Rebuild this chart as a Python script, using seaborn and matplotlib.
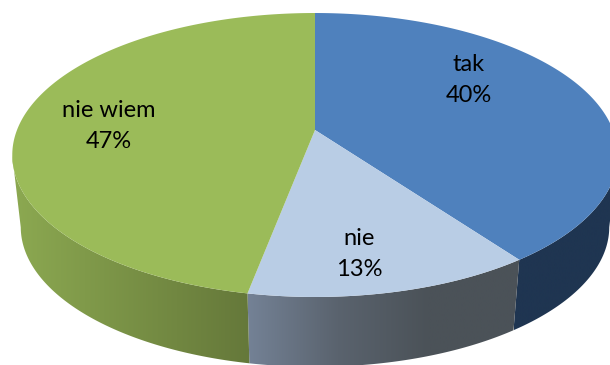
import numpy as np
import seaborn as sns
import matplotlib.pyplot as plt
from matplotlib.patches import Polygon

labels = ['tak', 'nie', 'nie wiem']
values = [40, 13, 47]
top_colors = ['#4F81BD', '#B9CDE5', '#9BBB59']
wall_colors = [['#1F3551', '#1F3551'], ['#748296', '#5A636E', '#4B5258', '#4B5258'], ['#8CA951', '#65783A']]
label_pos = [(469, 80), (359, 254), (109, 126)]

sns.set_theme(style='white')
plt.rcParams['font.family'] = ['Lato', 'DejaVu Sans']


def project(theta, lower=False):
    # disc seen in perspective, theta runs clockwise from the top
    x, y = np.sin(theta), np.cos(theta)
    w = 1 + 0.176 * y
    px = 315 + 298 * x / w
    py = (130 - 114.7 * y) / w
    if lower:
        px = 315 + 0.972 * (px - 315)
        py = 155 + 0.985 * (py - 155) + 72
    return px, py


fig, ax = plt.subplots(figsize=(6.1, 3.65), dpi=100)
fig.subplots_adjust(0, 0, 1, 1)
ax.set_xlim(0, 610)
ax.set_ylim(365, 0)
ax.axis('off')

edges = np.cumsum([0] + values) / sum(values) * 2 * np.pi

# only the front of the rim shows, between the left and right extremes of the disc
ring = np.linspace(0, 2 * np.pi, 1441)
ring_x = project(ring)[0]
t_right, t_left = ring[ring_x.argmax()], ring[ring_x.argmin()]

for i in range(len(values)):
    t0, t1 = max(edges[i], t_right), min(edges[i + 1], t_left)
    t = np.linspace(t0, t1, 200)
    xu, yu = project(t)
    xl, yl = project(t, lower=True)
    side = np.c_[np.r_[xu, xl[::-1]], np.r_[yu, yl[::-1]]]
    patch = Polygon(side, closed=True, fc='none', ec='none')
    ax.add_patch(patch)
    cmap = sns.blend_palette(wall_colors[i], as_cmap=True)
    im = ax.imshow(np.linspace(0, 1, 256)[None, :], cmap=cmap, aspect='auto', zorder=1,
                   extent=(side[:, 0].min(), side[:, 0].max(), 365, 0), interpolation='bilinear')
    im.set_clip_path(patch)

for i in range(len(values)):
    t = np.linspace(edges[i], edges[i + 1], 200)
    xu, yu = project(t)
    ax.fill(np.r_[315, xu], np.r_[130, yu], color=top_colors[i], lw=0, zorder=2)
    px, py = label_pos[i]
    ax.text(px, py, f'{labels[i]}\n{values[i]}%', ha='center', va='center', fontsize=17,
            color='black', linespacing=1.56, zorder=3)

ax.set_xlim(0, 610)
ax.set_ylim(365, 0)
fig.savefig('out.png', dpi=100)
